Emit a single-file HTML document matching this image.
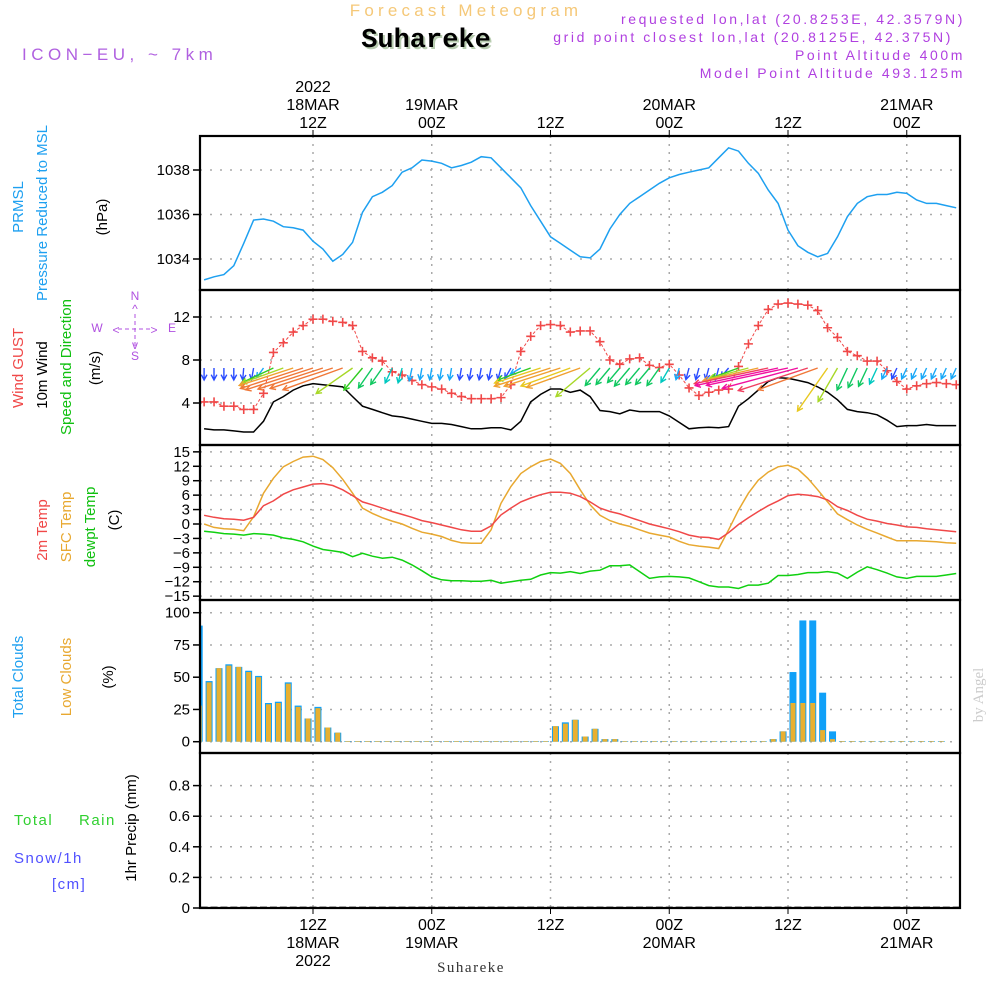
<!DOCTYPE html>
<html><head><meta charset="utf-8"><style>
body{margin:0;background:#fff}
svg{display:block}
text{font-family:"Liberation Sans",sans-serif}
</style></head><body>
<svg id="c" width="1000" height="1000" viewBox="0 0 1000 1000" xmlns="http://www.w3.org/2000/svg">
<rect width="1000" height="1000" fill="#fff"/>
<text x="466" y="16" text-anchor="middle" font-size="17" fill="#f5c878" letter-spacing="4.2">Forecast Meteogram</text>
<text x="428" y="49" text-anchor="middle" font-size="27" font-weight="bold" fill="#b8ccb0" style="font-family:'Liberation Mono',monospace">Suhareke</text>
<text x="426" y="47" text-anchor="middle" font-size="27" font-weight="bold" fill="#000" style="font-family:'Liberation Mono',monospace">Suhareke</text>
<text x="22" y="60" font-size="17" fill="#b060e0" letter-spacing="4.5">ICON−EU, ~ 7km</text>
<g font-size="14" fill="#b040e0" text-anchor="end" letter-spacing="2.6">
<text x="965" y="24">requested lon,lat (20.8253E, 42.3579N)</text>
<text x="953" y="42">grid point closest lon,lat (20.8125E, 42.375N)</text>
<text x="965" y="60">Point Altitude 400m</text>
<text x="965" y="78">Model Point Altitude 493.125m</text>
</g>
<text x="471" y="972" text-anchor="middle" font-size="15" fill="#333" letter-spacing="1.5" style="font-family:'Liberation Serif',serif">Suhareke</text>
<text transform="translate(983,695) rotate(-90)" text-anchor="middle" font-size="15" fill="#ccc" style="font-family:'Liberation Serif',serif">by Angel</text>
<g id="labels" font-size="15"></g>
<g id="plot"></g>
</svg>
<script>
// ---------- DATA ----------
const hours = Array.from({length:77},(_,i)=>i+1);
const pressure = [1033.06,1033.2,1033.3,1033.7,1034.7,1035.75,1035.8,1035.7,1035.45,1035.4,1035.3,1034.8,1034.45,1033.9,1034.2,1034.75,1036.1,1036.8,1037.0,1037.3,1037.9,1038.1,1038.45,1038.4,1038.3,1038.1,1038.2,1038.35,1038.6,1038.55,1038.1,1037.65,1037.2,1036.4,1035.7,1035.0,1034.7,1034.4,1034.1,1034.05,1034.45,1035.35,1036.0,1036.5,1036.8,1037.1,1037.4,1037.65,1037.8,1037.9,1038.0,1038.1,1038.55,1039.0,1038.85,1038.3,1037.85,1037.1,1036.5,1035.3,1034.6,1034.3,1034.1,1034.25,1035.0,1035.9,1036.5,1036.8,1036.9,1036.9,1037.0,1036.95,1036.65,1036.5,1036.5,1036.4,1036.3];
const gust = [4.1,4.1,3.7,3.7,3.4,3.4,4.9,8.7,9.6,10.6,11.2,11.8,11.8,11.6,11.5,11.2,8.8,8.2,7.9,6.9,6.6,6.1,5.7,5.5,5.3,4.9,4.6,4.4,4.4,4.4,4.5,5.7,8.8,10.2,11.2,11.3,11.2,10.6,10.7,10.7,9.7,8.0,7.6,8.1,8.2,7.5,7.3,7.6,6.6,5.4,4.7,5.0,5.2,5.3,7.4,9.5,11.2,12.7,13.2,13.3,13.2,13.1,12.6,11.0,10.1,8.8,8.4,7.9,7.9,7.0,6.0,5.3,5.6,5.8,5.9,5.8,5.7];
const windSpeed = [1.6,1.5,1.5,1.4,1.3,1.3,2.3,4.1,4.6,5.2,5.6,5.8,5.7,5.6,5.5,4.6,3.7,3.4,3.1,2.8,2.7,2.5,2.3,2.1,2.1,2.0,1.8,1.6,1.6,1.7,1.7,1.5,2.3,4.1,4.8,5.3,5.3,5.0,5.2,4.6,3.3,3.2,3.0,3.35,3.2,3.2,3.2,2.8,2.2,1.6,1.7,1.75,1.7,1.8,3.7,4.4,5.2,6.0,6.35,6.3,6.1,5.9,5.5,5.0,4.3,3.4,3.2,3.1,2.9,2.4,1.8,1.9,1.9,2.0,1.9,1.9,1.9];
const windDir = [0,0,0,0,5,10,35,65,70,72,72,72,72,72,70,55,40,35,35,25,15,12,10,10,10,10,10,10,10,12,15,30,60,70,72,72,72,70,70,50,40,40,40,40,40,40,35,30,15,15,15,15,15,40,70,75,77,78,78,78,75,72,70,35,30,25,25,25,25,25,25,25,25,25,25,25,25];
const temp2m = [1.8,1.4,1.1,1.0,0.8,1.4,3.8,4.8,6.2,7.1,7.7,8.3,8.4,8.0,7.1,5.9,4.6,4.0,3.3,2.6,2.0,1.4,0.7,0.3,-0.2,-0.7,-1.2,-1.5,-1.5,-0.4,1.9,3.3,4.6,5.4,6.1,6.6,6.6,6.4,5.7,4.6,3.3,2.6,2.1,1.4,0.7,0,-0.5,-1.0,-1.6,-2.3,-2.7,-2.8,-3.2,-1.8,-0.1,1.3,2.6,3.8,4.8,5.9,6.2,6.0,5.7,5.0,3.6,2.8,1.8,1.0,0.6,0.1,-0.2,-0.6,-0.7,-1.0,-1.2,-1.4,-1.6];
const tempSfc = [0,-0.7,-1.0,-1.1,-1.4,1.5,6.4,9.5,11.9,13.0,13.9,14.1,13.4,11.7,9.3,6.4,3.3,2.2,1.3,0.6,0,-0.9,-1.7,-2.1,-2.6,-3.4,-3.9,-4.0,-4.0,-1.2,4.3,7.8,10.5,11.9,13.0,13.5,12.6,10.5,7.1,4.0,1.8,0.7,0,-0.5,-1.2,-1.9,-2.3,-2.7,-3.6,-4.3,-4.6,-4.8,-5.1,-1.2,2.9,6.4,9.1,10.8,11.9,12.2,11.4,9.5,7.1,4.6,2.1,0.9,-0.2,-1.1,-1.9,-2.7,-3.5,-3.5,-3.5,-3.6,-3.7,-3.9,-4.0];
const dewpt = [-1.5,-1.7,-2.0,-2.1,-2.3,-2.0,-2.1,-2.3,-2.9,-3.2,-3.7,-4.6,-5.3,-5.6,-5.9,-6.8,-6.1,-6.7,-7.1,-6.9,-7.5,-8.5,-9.7,-11.0,-11.6,-11.8,-11.8,-11.9,-11.9,-11.7,-12.3,-12.0,-11.7,-11.5,-10.6,-10.1,-10.2,-9.9,-10.3,-9.8,-9.6,-8.7,-8.7,-8.5,-9.9,-11.3,-11.0,-10.9,-11.0,-11.2,-12.0,-12.8,-13.1,-13.1,-13.4,-12.7,-12.7,-12.3,-10.7,-10.7,-10.5,-10.1,-10.1,-9.9,-10.2,-11.3,-10.0,-8.9,-9.5,-10.2,-11.0,-11.3,-10.9,-10.9,-10.9,-10.6,-10.3];
const totalClouds = [90,47,57,60,58,55,51,30,31,46,28,18,27,11,7,0.5,0.5,0.5,0.5,0.5,0.5,0.5,0.5,0.5,0.5,0.5,0.5,0.5,0.5,0.5,0.5,0.5,0.5,0.5,0.5,0.5,12,15,17,4,10,2,2,0.5,0.5,0.5,0.5,0.5,0.5,0.5,0.5,0.5,0.5,0.5,0.5,0.5,0.5,0.5,2,8,54,94,94,38,8,0.5,0.5,0.5,0.5,0.5,0.5,0.5,0.5,0.5,0.5,0.5];
const lowClouds = [28,46,57,59,58,54,50,29,30,45,27,18,26,11,7,0.5,0.5,0.5,0.5,0.5,0.5,0.5,0.5,0.5,0.5,0.5,0.5,0.5,0.5,0.5,0.5,0.5,0.5,0.5,0.5,0.5,12,14,17,4,10,2,2,0.5,0.5,0.5,0.5,0.5,0.5,0.5,0.5,0.5,0.5,0.5,0.5,0.5,0.5,0.5,2,8,30,30,30,9,2,0.5,0.5,0.5,0.5,0.5,0.5,0.5,0.5,0.5,0.5,0.5];
const precip = new Array(77).fill(0);
const timeTickHours = [12,24,36,48,60,72];
const timeTickTime = ["12Z","00Z","12Z","00Z","12Z","00Z"];
const timeTickDate = ["18MAR","19MAR","","20MAR","","21MAR"];
const timeTickYear = ["2022","","","","",""];
const pressTicks = [1034,1036,1038];
const windTicks = [4,8,12];
const tempTicks = [15,12,9,6,3,0,-3,-6,-9,-12,-15];
const cloudTicks = [0,25,50,75,100];
const precipTicks = [0,0.2,0.4,0.6,0.8];

// ---------- AXES ----------
const L=200,R=960;
const xH = h => 313 + (h-12)*9.896;
const yP = p => 170 + (1038-p)*22.25;
const yW = v => 403 - (v-4)*10.75;
const yT = t => 524 - t*4.81;
const yC = c => 741.7 - c*1.29;
const yR = v => 908 - v*153;
const panels = [[136,290,'pressure'],[290,445,'wind'],[445,600,'temperature'],[600,753,'clouds'],[753,908,'precip']];

const NS='http://www.w3.org/2000/svg';
const plot=document.getElementById('plot');
const labels=document.getElementById('labels');
function mk(tag,attrs,parent){const e=document.createElementNS(NS,tag);for(const k in attrs)e.setAttribute(k,attrs[k]);(parent||plot).appendChild(e);return e;}

const defs=mk('defs',{});
panels.forEach((p,i)=>{const cp=mk('clipPath',{id:'cp'+i},defs);mk('rect',{x:L,y:p[0],width:R-L,height:p[1]-p[0]},cp);});

panels.forEach((p,i)=>{
  timeTickHours.forEach(h=>{
    const g=mk('line',{x1:xH(h),x2:xH(h),y1:p[0],y2:p[1],stroke:'#aaa','stroke-width':1.5,'stroke-dasharray':'2,6'});
    
    
  });
});
function hgrid(ticks,fy,fmt){
  ticks.forEach(t=>{
    const y=fy(t);
    const g=mk('line',{x1:L,x2:R,y1:y,y2:y,stroke:'#aaa','stroke-width':1.5,'stroke-dasharray':'2,8'});
    
    
    const tk=mk('line',{x1:193,x2:L,y1:y,y2:y,stroke:'#000','stroke-width':1.5});
    
    
    const tx=mk('text',{x:190,y:y+5,'text-anchor':'end','font-size':15,fill:'#000'});
    
    
    tx.textContent=fmt?fmt(t):String(t);
  });
}
hgrid(pressTicks,yP);
hgrid(windTicks,yW);
hgrid(tempTicks,yT,t=>t<0?'−'+(-t):String(t));
hgrid(cloudTicks,yC);
hgrid(precipTicks,yR,t=>t===0?'0':t.toFixed(1));

function line(arr,fy,color,name,clip,w,dash){
  const d=arr.map((v,i)=>(i?'L':'M')+xH(hours[i]).toFixed(1)+','+fy(v).toFixed(1)).join('');
  const p=mk('path',{d:d,fill:'none',stroke:color,'stroke-width':w||1.5,'clip-path':'url(#cp'+clip+')'});
  if(dash)p.setAttribute('stroke-dasharray',dash);
  
  
  return p;
}
line(pressure,yP,'#1ea0f0','pressure-line',0);

line(windSpeed,yW,'#000','wind-speed-line',1);
line(gust,yW,'#f04848','gust-line',1,1,'3,2');
gust.forEach((v,i)=>{
  const x=xH(hours[i]),y=yW(v);
  const m=mk('path',{d:`M${x-4.5},${y}H${x+4.5}M${x},${y-4.5}V${y+4.5}`,stroke:'#f04848','stroke-width':1.6,'clip-path':'url(#cp1)'});
  
  
});
function windColor(s){
  if(s<1.9)return '#2a4cff';
  if(s<2.6)return '#18a8f8';
  if(s<3.0)return '#00c8c0';
  if(s<3.6)return '#10c860';
  if(s<4.3)return '#30cc20';
  if(s<4.8)return '#a8d828';
  if(s<5.15)return '#e8c820';
  if(s<5.5)return '#f0a030';
  if(s<5.9)return '#f07838';
  if(s<6.1)return '#f04060';
  return '#f010a0';
}
windDir.forEach((dir,i)=>{
  const s=windSpeed[i];
  const to=(dir+180)*Math.PI/180;
  const len=Math.max(12,2.1*s*s);
  const x0=xH(hours[i]),y0=368;
  const dx=Math.sin(to),dy=-Math.cos(to);
  const x1=x0+dx*len,y1=y0+dy*len;
  const a1=to+Math.PI-0.5,a2=to+Math.PI+0.5;
  const c=windColor(s);
  const ar=mk('path',{d:`M${x0.toFixed(1)},${y0}L${x1.toFixed(1)},${y1.toFixed(1)}M${(x1+Math.sin(a1)*6).toFixed(1)},${(y1-Math.cos(a1)*6).toFixed(1)}L${x1.toFixed(1)},${y1.toFixed(1)}L${(x1+Math.sin(a2)*6).toFixed(1)},${(y1-Math.cos(a2)*6).toFixed(1)}`,fill:'none',stroke:c,'stroke-width':1.4,'clip-path':'url(#cp1)'});
  
  
});

line(tempSfc,yT,'#e8a830','sfc-temp-line',2);
line(temp2m,yT,'#f04848','temp-2m-line',2);
line(dewpt,yT,'#10d010','dewpoint-line',2);

totalClouds.forEach((v,i)=>{
  const xc=xH(i+0.5);
  const b=mk('rect',{x:xc-3.5,y:yC(v),width:7,height:yC(0)-yC(v),fill:'#10a0f8','clip-path':'url(#cp3)'});
  
  
  const lv=lowClouds[i];
  const o=mk('rect',{x:xc-2.5,y:yC(lv),width:5,height:yC(0)-yC(lv),fill:'#e8b030','clip-path':'url(#cp3)'});
  
  
});
precip.forEach((v,i)=>{
  const xc=xH(hours[i]);
  const b=mk('rect',{x:xc-3.5,y:yR(v)-1.5,width:7,height:yR(0)-yR(v)+1.5,fill:'#555','clip-path':'url(#cp4)'});
  
  
});

panels.forEach((p,i)=>{
  const r=mk('rect',{x:L,y:p[0],width:R-L,height:p[1]-p[0],fill:'none',stroke:'#000','stroke-width':2.2});
  
  
});

timeTickHours.forEach((h,i)=>{
  const x=xH(h);
  const t1=mk('line',{x1:x,x2:x,y1:130,y2:136,stroke:'#000','stroke-width':1});
  
  
  const t2=mk('line',{x1:x,x2:x,y1:908,y2:914,stroke:'#000','stroke-width':1});
  
  
  const rows=[[timeTickYear[i],87],[timeTickDate[i],105],[timeTickTime[i],123]];
  rows.forEach(r=>{ if(!r[0])return;
    const t=mk('text',{x:x,y:r[1]+5,'text-anchor':'middle','font-size':16,fill:'#000'});
    
    
    t.textContent=r[0];});
  const brows=[[timeTickTime[i],925],[timeTickDate[i],943],[timeTickYear[i],961]];
  brows.forEach(r=>{ if(!r[0])return;
    const t=mk('text',{x:x,y:r[1]+5,'text-anchor':'middle','font-size':16,fill:'#000'});
    
    
    t.textContent=r[0];});
});

function vlab(txt,x,y,color,name,size){
  const t=mk('text',{transform:`translate(${x},${y}) rotate(-90)`,'text-anchor':'middle','font-size':size||15,fill:color},labels);
  
  
  t.textContent=txt;return t;
}
function hlab(txt,x,y,color,name){
  const t=mk('text',{x:x,y:y,'font-size':15,fill:color,'letter-spacing':'1.5'},labels);
  
  
  t.textContent=txt;return t;
}
vlab('PRMSL',23,207,'#1ea0f0','prmsl-label');
vlab('Pressure Reduced to MSL',47,213,'#1ea0f0','pressure-label');
vlab('(hPa)',107,217,'#000','pressure-unit');
vlab('Wind GUST',23,368,'#f04848','gust-label');
vlab('10m Wind',47,375,'#000','wind-label');
vlab('Speed and Direction',71,367,'#10c010','wind-dir-label');
vlab('(m/s)',100,368,'#000','wind-unit');
vlab('2m Temp',47,530,'#f04848','temp2m-label');
vlab('SFC Temp',71,527,'#e8a830','sfc-temp-label');
vlab('dewpt Temp',95,527,'#10c010','dewpt-label');
vlab('(C)',119,520,'#000','temp-unit');
vlab('Total Clouds',23,677,'#1ea0f0','total-clouds-label');
vlab('Low Clouds',71,677,'#e8a830','low-clouds-label');
vlab('(%)',113,677,'#000','clouds-unit');
vlab('1hr Precip (mm)',136,828,'#000','precip-unit');
hlab('Total',14,825,'#30d030','total-rain-label');
hlab('Rain',79,825,'#30d030','rain-label');
hlab('Snow/1h',14,863,'#5050ff','snow-label');
hlab('[cm]',52,889,'#5050ff','snow-unit');
const comp=mk('g',{fill:'#b050e0','font-size':12,'text-anchor':'middle'},labels);


[['N',135,300],['S',135,360],['W',97,332],['E',172,332],['^',135,313],['v',135,349],['<',116,334],['>',154,334]].forEach(a=>{
  const t=mk('text',{x:a[1],y:a[2]},comp);t.textContent=a[0];});
mk('path',{d:'M118,329H152M135,314V346',stroke:'#b050e0','stroke-width':1,'stroke-dasharray':'4,3',fill:'none'},comp);
</script>
</body></html>
